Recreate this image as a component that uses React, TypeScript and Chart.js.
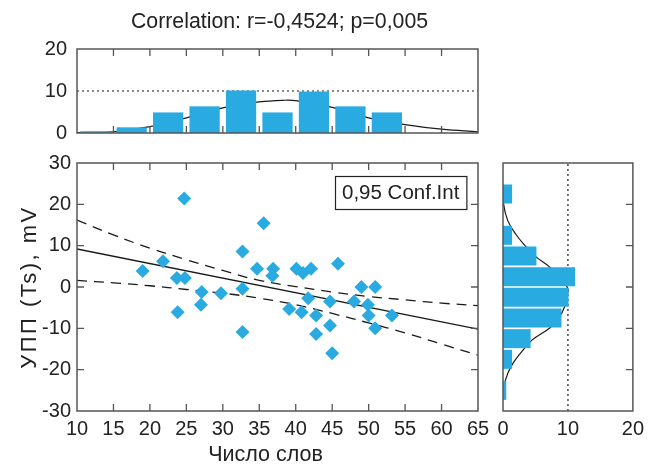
import React, { useEffect, useRef } from 'react';
import { Chart, registerables } from 'chart.js';

Chart.register(...registerables);

const FONT = "'Liberation Sans', Arial, Helvetica, sans-serif";
const BLUE = '#29abe2';
const TEXT = '#222222';
const AXIS = '#555555';
const LINE = '#1a1a1a';

// ---- Data ----
const chartTitle = 'Correlation: r=-0,4524; p=0,005';
const xAxisTitle = 'Число слов';
const yAxisTitle = 'УПП (Ts), mV';
const legendText = '0,95 Conf.Int';

const wordCount = [19.0, 21.8, 24.7, 23.7, 24.8, 27.1, 29.75, 32.7, 32.7, 35.6, 34.7, 36.9, 36.8, 40.1, 41.0, 42.1, 45.8, 49.0, 50.9, 41.7, 44.7, 48.0, 49.9, 39.1, 40.8, 42.8, 50.0, 53.2, 44.7, 50.9, 42.8, 45.0, 23.8, 27.0, 32.7];
const uppTs = [3.9, 6.2, 21.4, 2.2, 2.2, -1.2, -1.5, -0.4, 8.6, 15.4, 4.4, 4.4, 2.7, 4.4, 3.4, 4.4, 5.6, 0.0, 0.0, -2.7, -3.5, -3.5, -4.3, -5.3, -6.1, -6.9, -6.9, -6.9, -9.3, -10.0, -11.4, -16.0, -6.1, -4.3, -10.9];

const fitX = [10, 65];
const fitY = [9.2, -10.2];

const ciX = [10, 15, 20, 25, 30, 35, 40, 45, 50, 55, 60, 65];
const ciUpper = [16.2, 12.6, 9.4, 6.6, 4.0, 1.6, 0.1, -1.2, -2.3, -3.1, -3.9, -4.5];
const ciLower = [1.6, 1.0, 0.3, -0.6, -1.5, -2.7, -4.3, -6.4, -8.7, -11.1, -13.8, -16.5];

// top histogram (word count)
const xBinCenters = [12.5, 17.5, 22.5, 27.5, 32.5, 37.5, 42.5, 47.5, 52.5];
const xBinHeights = [0.4, 1.35, 4.9, 6.35, 10.1, 4.9, 9.9, 6.35, 4.9];
const xCurveX = [10, 15, 20, 25, 30, 35, 38.5, 40, 45, 50, 55, 60, 65];
const xCurveY = [0.1, 0.3, 1.5, 3.6, 6.0, 7.4, 7.8, 7.7, 6.1, 3.6, 2.0, 0.9, 0.3];
const topRefLevel = 10;

// right histogram (UPP)
const yBinCenters = [22.5, 12.5, 7.5, 2.5, -2.5, -7.5, -12.5, -17.5, -25];
const yBinHeights = [1.4, 1.4, 5.15, 11.1, 10.1, 9.0, 4.25, 1.4, 0.5];
const yCurveY = [24, 20, 16, 12.7, 10, 7.4, 4.8, 2, -0.5, -2.3, -4.7, -7.5, -9.9, -12.8, -16, -19.2, -22.4, -25, -27];
const yCurveX = [0.05, 0.1, 0.75, 2.0, 3.4, 5.0, 7.2, 9.0, 10.0, 9.8, 9.5, 8.6, 7.2, 4.5, 2.7, 1.25, 0.4, 0.1, 0.05];
const rightRefLevel = 10;

const xTickStep = 5;
const yTickStep = 10;

// ---- Plugins ----
const boxTicks = {
  id: 'boxTicks',
  afterDatasetsDraw(chart: any, _args: any, opts: any) {
    const { ctx, chartArea: a } = chart;
    const L = opts.len ?? 7;
    ctx.save();
    ctx.strokeStyle = opts.color || AXIS;
    ctx.lineWidth = 1.3;
    ctx.beginPath();
    const xs = chart.scales.x;
    const ys = chart.scales.y;
    (opts.xSides || []).forEach((side: string) => {
      xs.ticks.forEach((t: any) => {
        const p = xs.getPixelForValue(t.value);
        if (Math.abs(p - a.left) < 1 || Math.abs(p - a.right) < 1) return;
        if (side === 'bottom') { ctx.moveTo(p, a.bottom); ctx.lineTo(p, a.bottom - L); }
        else { ctx.moveTo(p, a.top); ctx.lineTo(p, a.top + L); }
      });
    });
    (opts.ySides || []).forEach((side: string) => {
      ys.ticks.forEach((t: any) => {
        const p = ys.getPixelForValue(t.value);
        if (Math.abs(p - a.top) < 1 || Math.abs(p - a.bottom) < 1) return;
        if (side === 'left') { ctx.moveTo(a.left, p); ctx.lineTo(a.left + L, p); }
        else { ctx.moveTo(a.right, p); ctx.lineTo(a.right - L, p); }
      });
    });
    ctx.stroke();
    ctx.lineWidth = 1.5;
    ctx.strokeRect(a.left, a.top, a.right - a.left, a.bottom - a.top);
    ctx.restore();
  },
};

const ciLegend = {
  id: 'ciLegend',
  afterDraw(chart: any, _args: any, opts: any) {
    if (!opts || !opts.text) return;
    const { ctx, chartArea: a } = chart;
    ctx.save();
    ctx.font = `${opts.size}px ${FONT}`;
    const w = ctx.measureText(opts.text).width + 2 * opts.padX;
    const h = opts.height;
    const x = Math.round(a.right - opts.right - w);
    const y = Math.round(a.top + opts.top);
    ctx.fillStyle = '#ffffff';
    ctx.fillRect(x, y, w, h);
    ctx.strokeStyle = '#222';
    ctx.lineWidth = 1.2;
    ctx.strokeRect(x + 0.5, y + 0.5, w, h);
    ctx.fillStyle = '#222';
    ctx.textAlign = 'center';
    ctx.textBaseline = 'middle';
    ctx.fillText(opts.text, x + w / 2, y + h / 2 + 1);
    ctx.restore();
  },
};

// titles drawn relative to the chart area
const figureText = {
  id: 'figureText',
  afterDraw(chart: any, _args: any, opts: any) {
    const { ctx, chartArea: a } = chart;
    (opts.items || []).forEach((it: any) => {
      ctx.save();
      ctx.font = `${it.size}px ${FONT}`;
      ctx.fillStyle = TEXT;
      ctx.textAlign = 'center';
      ctx.textBaseline = 'middle';
      if (it.spacing && 'letterSpacing' in ctx) (ctx as any).letterSpacing = `${it.spacing}px`;
      const cx = it.anchorX === 'abs' ? it.dx : (a.left + a.right) / 2 + it.dx;
      const cy = it.anchorY === 'abs' ? it.dy
        : it.anchorY === 'center' ? (a.top + a.bottom) / 2 + it.dy
        : it.anchorY === 'bottom' ? a.bottom + it.dy
        : a.top + it.dy;
      ctx.translate(cx, cy);
      if (it.rotate) ctx.rotate(it.rotate);
      ctx.fillText(it.text, 0, 0);
      ctx.restore();
    });
  },
};

const tickFont = { family: FONT, size: 20 };

function useChart(ref: React.RefObject<HTMLCanvasElement>, makeConfig: () => any) {
  useEffect(() => {
    if (!ref.current) return;
    const chart = new Chart(ref.current, makeConfig());
    return () => chart.destroy();
  }, []);
}

export default function App() {
  const topRef = useRef<HTMLCanvasElement>(null);
  const mainRef = useRef<HTMLCanvasElement>(null);
  const rightRef = useRef<HTMLCanvasElement>(null);

  useChart(mainRef, () => ({
    type: 'scatter',
    data: {
      datasets: [
        {
          data: wordCount.map((x, i) => ({ x, y: uppTs[i] })),
          pointStyle: 'rectRot',
          pointRadius: 7,
          pointHoverRadius: 7,
          pointBorderWidth: 0,
          backgroundColor: BLUE,
          borderColor: BLUE,
        },
        {
          type: 'line',
          data: fitX.map((x, i) => ({ x, y: fitY[i] })),
          borderColor: LINE,
          borderWidth: 1.3,
          pointRadius: 0,
          fill: false,
        },
        {
          type: 'line',
          data: ciX.map((x, i) => ({ x, y: ciUpper[i] })),
          borderColor: LINE,
          borderWidth: 1.3,
          borderDash: [10, 7],
          pointRadius: 0,
          tension: 0.4,
          fill: false,
        },
        {
          type: 'line',
          data: ciX.map((x, i) => ({ x, y: ciLower[i] })),
          borderColor: LINE,
          borderWidth: 1.3,
          borderDash: [10, 7],
          pointRadius: 0,
          tension: 0.4,
          fill: false,
        },
      ],
    },
    options: {
      animation: false,
      responsive: false,
      events: [],
      layout: { padding: { left: 0, top: 23, right: 22, bottom: 0 } },
      plugins: {
        legend: { display: false },
        tooltip: { enabled: false },
        boxTicks: { xSides: ['top', 'bottom'], ySides: ['left', 'right'], len: 7 },
        ciLegend: { text: legendText, size: 20.5, padX: 7, height: 33, right: 12, top: 12.5 },
        figureText: {
          items: [
            { text: xAxisTitle, size: 21.5, dx: -12, anchorY: 'bottom', dy: 44 },
            { text: yAxisTitle, size: 22, spacing: 2.5, anchorX: 'abs', dx: 30, anchorY: 'center', dy: 0, rotate: -Math.PI / 2 },
          ],
        },
      },
      scales: {
        x: {
          type: 'linear',
          min: 10,
          max: 65,
          ticks: { stepSize: xTickStep, color: TEXT, font: tickFont, padding: 6, maxRotation: 0, autoSkip: false },
          grid: { display: false, drawTicks: false },
          border: { display: false },
          afterFit: (s: any) => { s.height = 57; },
        },
        y: {
          type: 'linear',
          min: -30,
          max: 30,
          ticks: { stepSize: yTickStep, color: TEXT, font: tickFont, padding: 6 },
          grid: { display: false, drawTicks: false },
          border: { display: false },
          afterFit: (s: any) => { s.width = 77; },
        },
      },
    },
    plugins: [boxTicks, ciLegend, figureText],
  }));

  useChart(topRef, () => ({
    type: 'bar',
    data: {
      datasets: [
        {
          type: 'bar',
          data: xBinCenters.map((x, i) => ({ x, y: xBinHeights[i] })),
          backgroundColor: BLUE,
          borderWidth: 0,
          barPercentage: 0.83,
          categoryPercentage: 1,
        },
        {
          type: 'line',
          data: xCurveX.map((x, i) => ({ x, y: xCurveY[i] })),
          borderColor: LINE,
          borderWidth: 1.2,
          pointRadius: 0,
          tension: 0.4,
          fill: false,
        },
        {
          type: 'line',
          data: [{ x: 10, y: topRefLevel }, { x: 65, y: topRefLevel }],
          borderColor: LINE,
          borderWidth: 1.2,
          borderDash: [2, 3],
          pointRadius: 0,
          fill: false,
        },
      ],
    },
    options: {
      animation: false,
      responsive: false,
      events: [],
      layout: { padding: { left: 0, top: 49, right: 22, bottom: 0 } },
      plugins: {
        legend: { display: false },
        tooltip: { enabled: false },
        boxTicks: { xSides: ['top', 'bottom'], ySides: [], len: 7 },
        figureText: {
          items: [{ text: chartTitle, size: 21.3, dx: 2, anchorY: 'abs', dy: 22 }],
        },
      },
      scales: {
        x: {
          type: 'linear',
          min: 10,
          max: 65,
          offset: false,
          ticks: { stepSize: xTickStep, display: false },
          grid: { display: false, drawTicks: false, offset: false },
          border: { display: false },
          afterFit: (s: any) => { s.height = 24; },
        },
        y: {
          type: 'linear',
          min: 0,
          max: 20,
          ticks: { stepSize: 10, color: TEXT, font: tickFont, padding: 10 },
          grid: { display: false, drawTicks: false },
          border: { display: false },
          afterFit: (s: any) => { s.width = 77; },
        },
      },
    },
    plugins: [boxTicks, figureText],
  }));

  useChart(rightRef, () => ({
    type: 'bar',
    data: {
      datasets: [
        {
          type: 'bar',
          indexAxis: 'y',
          data: yBinCenters.map((y, i) => ({ x: yBinHeights[i], y })),
          backgroundColor: BLUE,
          borderWidth: 0,
          barPercentage: 0.92,
          categoryPercentage: 1,
        },
        {
          type: 'line',
          indexAxis: 'y',
          data: yCurveY.map((y, i) => ({ x: yCurveX[i], y })),
          borderColor: LINE,
          borderWidth: 1.2,
          pointRadius: 0,
          tension: 0.4,
          fill: false,
        },
        {
          type: 'line',
          indexAxis: 'y',
          data: [{ x: rightRefLevel, y: -30 }, { x: rightRefLevel, y: 30 }],
          borderColor: LINE,
          borderWidth: 1.2,
          borderDash: [2, 3],
          pointRadius: 0,
          fill: false,
        },
      ],
    },
    options: {
      indexAxis: 'y',
      animation: false,
      responsive: false,
      events: [],
      layout: { padding: { left: 13, top: 23, right: 12, bottom: 0 } },
      plugins: {
        legend: { display: false },
        tooltip: { enabled: false },
        boxTicks: { xSides: [], ySides: ['right'], len: 7 },
      },
      scales: {
        x: {
          type: 'linear',
          min: 0,
          max: 20,
          offset: false,
          ticks: { stepSize: 10, color: TEXT, font: tickFont, padding: 6, maxRotation: 0 },
          grid: { display: false, drawTicks: false, offset: false },
          border: { display: false },
          afterFit: (s: any) => { s.height = 57; },
        },
        y: {
          type: 'linear',
          min: -30,
          max: 30,
          offset: false,
          ticks: { stepSize: yTickStep, display: false },
          grid: { display: false, drawTicks: false, offset: false },
          border: { display: false },
          afterFit: (s: any) => { s.width = 0; },
        },
      },
    },
    plugins: [boxTicks],
  }));

  return (
    <div style={{ position: 'absolute', left: 0, top: 0, width: 650, height: 468, background: '#fff' }}>
      <canvas ref={topRef} width={500} height={157} style={{ position: 'absolute', left: 0, top: 0 }} />
      <canvas ref={mainRef} width={500} height={328} style={{ position: 'absolute', left: 0, top: 140 }} />
      <canvas ref={rightRef} width={160} height={328} style={{ position: 'absolute', left: 490, top: 140 }} />
    </div>
  );
}
